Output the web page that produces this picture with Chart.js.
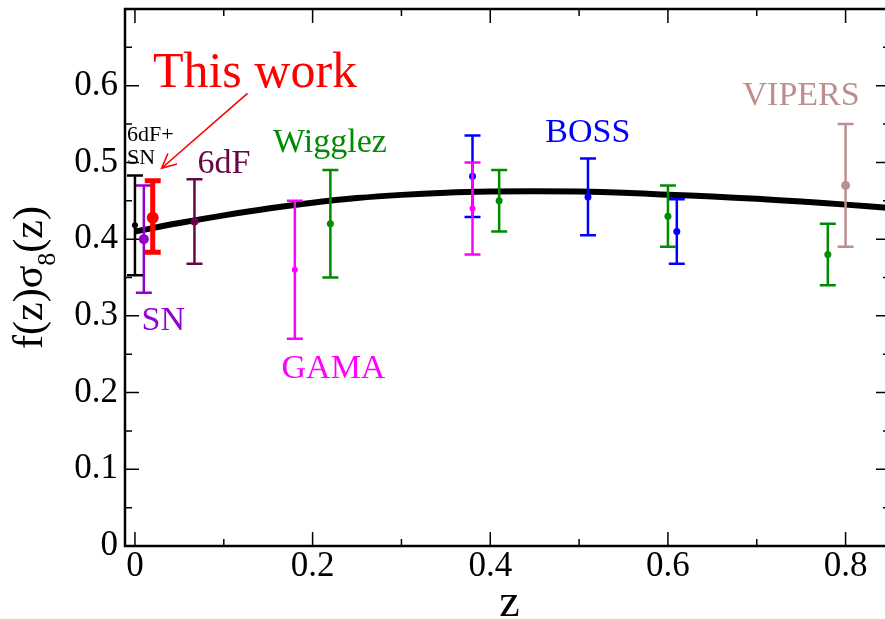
<!DOCTYPE html>
<html>
<head>
<meta charset="utf-8">
<script src="https://cdn.jsdelivr.net/npm/chart.js@4"></script>
<style>
  html, body { margin: 0; padding: 0; overflow: hidden; background: #fff; }
  canvas { display: block; }
</style>
</head>
<body>
<canvas id="chart" width="896" height="619"></canvas>
<script>
// axis ticks
const xMajorTicks = [0, 0.2, 0.4, 0.6, 0.8]
const xMinorTicks = [0.1, 0.3, 0.5, 0.7]
const xTickLabels = ['0', '0.2', '0.4', '0.6', '0.8']
const yMajorTicks = [0, 0.1, 0.2, 0.3, 0.4, 0.5, 0.6, 0.7]
const yMinorTicks = [0.05, 0.15, 0.25, 0.35, 0.45, 0.55, 0.65]
const yTickLabels = ['0', '0.1', '0.2', '0.3', '0.4', '0.5', '0.6', '']

// LCDM prediction
const curveZ   = [0, 0.05, 0.1, 0.15, 0.2, 0.25, 0.3, 0.35, 0.4, 0.45, 0.5, 0.55, 0.6, 0.65, 0.7, 0.75, 0.8, 0.85]
const curveFs8 = [0.410, 0.421, 0.431, 0.440, 0.4475, 0.4535, 0.4577, 0.4605, 0.462, 0.4625, 0.462, 0.4605, 0.458, 0.4555, 0.4525, 0.449, 0.445, 0.4405]

// measurements
const sixdfSnZ = [0.0],   sixdfSnF = [0.418], sixdfSnErr = [0.065]
const snZ      = [0.01],  snF      = [0.40],  snErr      = [0.07]
const thisZ    = [0.02],  thisF    = [0.428], thisErrUp  = [0.048], thisErrDown = [0.045]
const sixdfZ   = [0.067], sixdfF   = [0.423], sixdfErr   = [0.055]
const gamaZ    = [0.18, 0.38], gamaF = [0.36, 0.44], gamaErr = [0.09, 0.06]
const wigZ     = [0.22, 0.41, 0.60, 0.78], wigF = [0.42, 0.45, 0.43, 0.38], wigErr = [0.07, 0.04, 0.04, 0.04]
const bossZ    = [0.38, 0.51, 0.61], bossF = [0.482, 0.455, 0.41], bossErr = [0.053, 0.05, 0.042]
const vipersZ  = [0.80], vipersF = [0.47], vipersErr = [0.08]

// text on the plot, placed in data coordinates (left edge, baseline)
const notes = [
  {text: 'This work', x: 0.0202, y: 0.5988, color: '#ff0000', size: 50},
  {text: '6dF+',      x: -0.009, y: 0.5284, color: '#000000', size: 22},
  {text: 'SN',        x: -0.009, y: 0.4976, color: '#000000', size: 22},
  {text: '6dF',       x: 0.0705, y: 0.4859, color: '#670748', size: 34},
  {text: 'SN',        x: 0.0075, y: 0.2816, color: '#9400d3', size: 34},
  {text: 'Wigglez',   x: 0.1555, y: 0.514,  color: '#008b00', size: 34},
  {text: 'GAMA',      x: 0.165,  y: 0.2186, color: '#ff00ff', size: 34},
  {text: 'BOSS',      x: 0.462,  y: 0.527,  color: '#0000ff', size: 34},
  {text: 'VIPERS',    x: 0.684,  y: 0.5749, color: '#bc8f8f', size: 34}
]
const arrowFrom = {x: 0.1267, y: 0.590}
const arrowTo   = {x: 0.030,  y: 0.4924}

const serif = "'Liberation Serif', 'DejaVu Serif', serif"

function pts(zs, fs) { return zs.map((z, i) => ({x: z, y: fs[i]})) }

function survey(label, zs, fs, up, down, color, radius, barWidth, capHalf) {
  return {
    label: label, data: pts(zs, fs), errUp: up, errDown: down,
    backgroundColor: color, borderColor: color, borderWidth: 0,
    pointRadius: radius, barWidth: barWidth, capHalf: capHalf
  }
}

// vertical error bars with caps, drawn just before each dataset's points
const errorBars = {
  id: 'errorBars',
  beforeDatasetDraw(chart, args) {
    const ds = chart.data.datasets[args.index]
    if (!ds.errUp) return
    const ctx = chart.ctx, y = chart.scales.y
    ctx.save()
    ctx.strokeStyle = ds.borderColor
    ctx.lineWidth = ds.barWidth
    args.meta.data.forEach((el, i) => {
      const v = ds.data[i].y
      const top = y.getPixelForValue(v + ds.errUp[i])
      const bot = y.getPixelForValue(v - ds.errDown[i])
      ctx.beginPath()
      ctx.moveTo(el.x, top); ctx.lineTo(el.x, bot)
      ctx.moveTo(el.x - ds.capHalf, top); ctx.lineTo(el.x + ds.capHalf, top)
      ctx.moveTo(el.x - ds.capHalf, bot); ctx.lineTo(el.x + ds.capHalf, bot)
      ctx.stroke()
    })
    ctx.restore()
  }
}

// frame with inward ticks on all four sides, titles and annotations
const decorations = {
  id: 'decorations',
  afterDraw(chart) {
    const ctx = chart.ctx, a = chart.chartArea
    const x = chart.scales.x, y = chart.scales.y
    ctx.save()
    ctx.strokeStyle = '#000'
    ctx.lineWidth = 2.5
    ctx.strokeRect(a.left, a.top, a.right - a.left, a.bottom - a.top)

    ctx.lineWidth = 1.5
    ctx.beginPath()
    const xt = (v, len) => {
      const px = x.getPixelForValue(v)
      ctx.moveTo(px, a.bottom); ctx.lineTo(px, a.bottom - len)
      ctx.moveTo(px, a.top); ctx.lineTo(px, a.top + len)
    }
    const yt = (v, len) => {
      const py = y.getPixelForValue(v)
      ctx.moveTo(a.left, py); ctx.lineTo(a.left + len, py)
      ctx.moveTo(a.right, py); ctx.lineTo(a.right - len, py)
    }
    xMajorTicks.forEach(v => xt(v, 14))
    xMinorTicks.forEach(v => xt(v, 7))
    yMajorTicks.forEach(v => yt(v, 14))
    yMinorTicks.forEach(v => yt(v, 7))
    ctx.stroke()

    // annotations
    ctx.textAlign = 'left'
    ctx.textBaseline = 'alphabetic'
    notes.forEach(n => {
      ctx.fillStyle = n.color
      ctx.font = n.size + 'px ' + serif
      ctx.fillText(n.text, x.getPixelForValue(n.x), y.getPixelForValue(n.y))
    })

    // arrow to "This work"
    const x0 = x.getPixelForValue(arrowFrom.x), y0 = y.getPixelForValue(arrowFrom.y)
    const x1 = x.getPixelForValue(arrowTo.x),   y1 = y.getPixelForValue(arrowTo.y)
    const ang = Math.atan2(y1 - y0, x1 - x0)
    ctx.strokeStyle = '#ff0000'
    ctx.lineWidth = 1.6
    ctx.beginPath()
    ctx.moveTo(x0, y0); ctx.lineTo(x1, y1)
    ctx.moveTo(x1 - 16 * Math.cos(ang - 0.45), y1 - 16 * Math.sin(ang - 0.45))
    ctx.lineTo(x1, y1)
    ctx.lineTo(x1 - 16 * Math.cos(ang + 0.45), y1 - 16 * Math.sin(ang + 0.45))
    ctx.stroke()

    // x title
    ctx.fillStyle = '#000'
    ctx.textAlign = 'center'
    ctx.font = '46px ' + serif
    ctx.fillText('z', (a.left + a.right) / 2 + 2, 616)

    // y title f(z)σ8(z), rotated
    ctx.translate(41.5, 277.5)
    ctx.rotate(-Math.PI / 2)
    ctx.textAlign = 'left'
    const big = '42px ' + serif, small = '26px ' + serif
    ctx.font = big
    const w1 = ctx.measureText('f(z)\u03c3').width
    const w3 = ctx.measureText('(z)').width
    ctx.font = small
    const w2 = ctx.measureText('8').width
    let cx = -(w1 + w2 + w3) / 2
    ctx.font = big
    ctx.fillText('f(z)\u03c3', cx, 0)
    cx += w1
    ctx.font = small
    ctx.fillText('8', cx, 13)
    cx += w2
    ctx.font = big
    ctx.fillText('(z)', cx, 0)
    ctx.restore()
  }
}

Chart.defaults.font.family = serif

new Chart(document.getElementById('chart'), {
  type: 'scatter',
  data: {
    datasets: [
      {label: 'LCDM', type: 'line', data: pts(curveZ, curveFs8), borderColor: '#000', borderWidth: 6,
       pointRadius: 0, tension: 0.4, fill: false, order: 10},
      survey('This work', thisZ, thisF, thisErrUp, thisErrDown, '#ff0000', 6, 5, 8),
      survey('6dF+SN', sixdfSnZ, sixdfSnF, sixdfSnErr, sixdfSnErr, '#000000', 3, 2.5, 8),
      survey('SN', snZ, snF, snErr, snErr, '#9400d3', 5, 2.5, 8),
      survey('6dF', sixdfZ, sixdfF, sixdfErr, sixdfErr, '#670748', 4, 2.5, 8),
      survey('GAMA', gamaZ, gamaF, gamaErr, gamaErr, '#ff00ff', 3, 2.5, 8),
      survey('Wigglez', wigZ, wigF, wigErr, wigErr, '#008b00', 3.5, 2.5, 8),
      survey('BOSS', bossZ, bossF, bossErr, bossErr, '#0000ff', 3.5, 2.5, 8),
      survey('VIPERS', vipersZ, vipersF, vipersErr, vipersErr, '#bc8f8f', 4.5, 2.5, 8)
    ]
  },
  options: {
    responsive: false,
    animation: false,
    events: [],
    layout: {padding: {top: 9, right: 5, left: 0, bottom: 0}},
    plugins: {legend: {display: false}, tooltip: {enabled: false}},
    scales: {
      x: {
        type: 'linear', min: -0.0112, max: 0.85,
        grid: {display: false, drawTicks: false},
        border: {display: false},
        ticks: {color: '#000', font: {size: 35}, padding: 0, maxRotation: 0, autoSkip: false,
                callback: (v, i) => xTickLabels[i]},
        afterBuildTicks: s => { s.ticks = xMajorTicks.map(v => ({value: v})) },
        afterFit: s => { s.height = 73; s.paddingLeft = 0; s.paddingRight = 0 }
      },
      y: {
        type: 'linear', min: 0, max: 0.7,
        grid: {display: false, drawTicks: false},
        border: {display: false},
        ticks: {color: '#000', font: {size: 35}, padding: 7, autoSkip: false,
                callback: (v, i) => yTickLabels[i]},
        afterBuildTicks: s => { s.ticks = yMajorTicks.map(v => ({value: v})) },
        afterFit: s => { s.width = 125; s.paddingTop = 0; s.paddingBottom = 0 }
      }
    }
  },
  plugins: [errorBars, decorations]
})
</script>
</body>
</html>
